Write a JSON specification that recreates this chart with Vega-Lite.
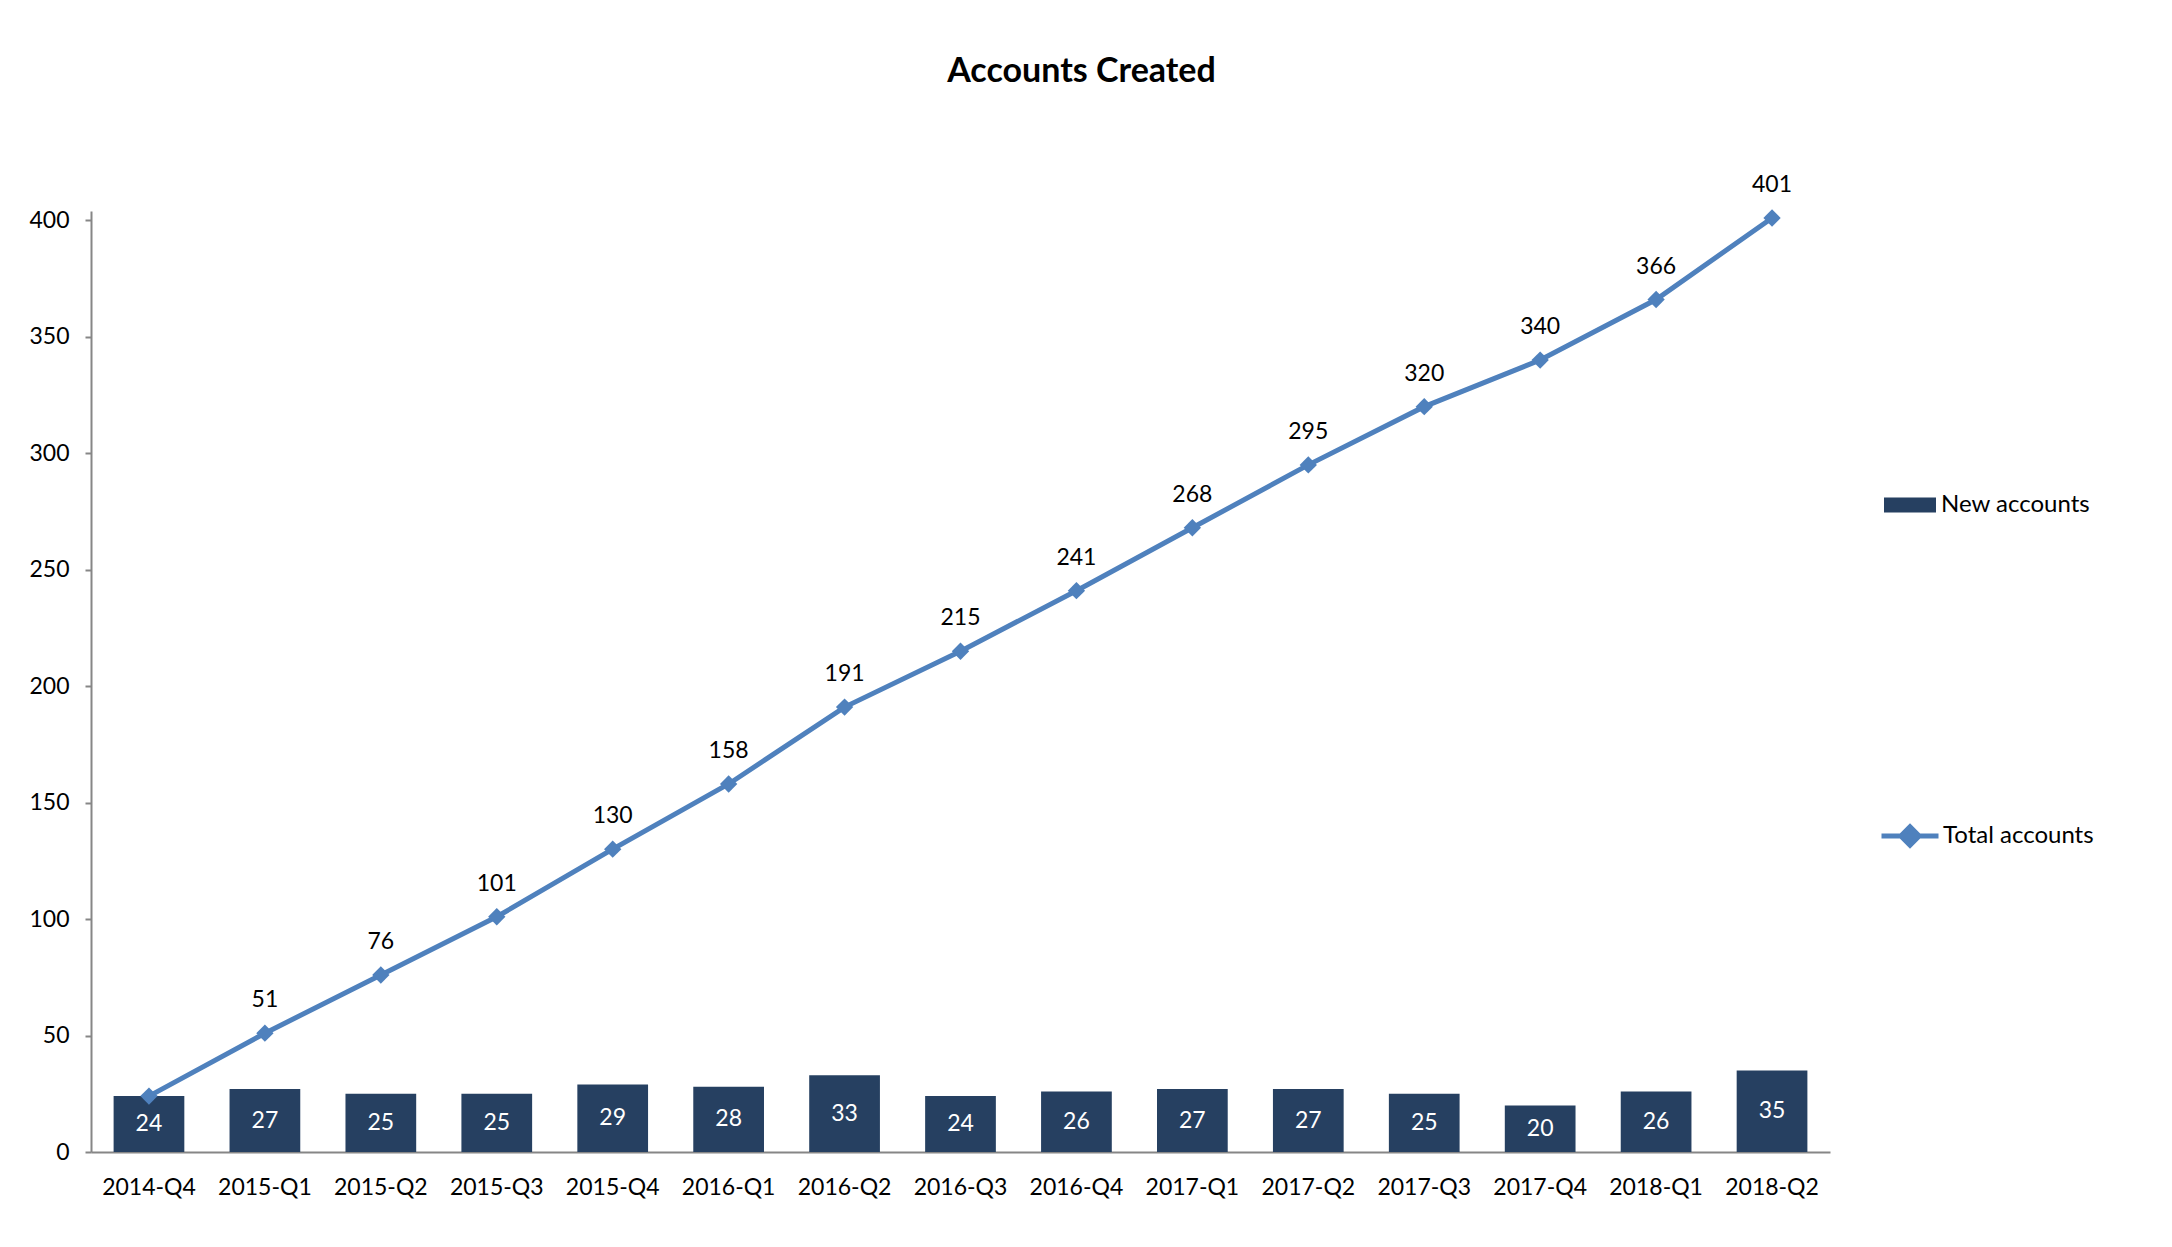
{
  "$schema": "https://vega.github.io/schema/vega-lite/v6.json",
  "width": 1739,
  "height": 941,
  "autosize": "none",
  "padding": {"left": 91, "top": 211, "right": 342, "bottom": 95},
  "background": "white",
  "config": {
    "font": "Lato",
    "view": {"stroke": null},
    "axis": {"grid": false, "domainColor": "#868686", "tickColor": "#868686", "labelColor": "#000000", "labelFont": "Lato", "labelFontSize": 23, "domainWidth": 2, "tickWidth": 2}
  },
  "title": {"text": "Accounts Created", "font": "Lato", "fontSize": 34, "fontWeight": "bold", "color": "#000000", "anchor": "middle", "frame": "group", "dx": 121, "baseline": "alphabetic", "offset": 58},
  "data": {"values": [
    {"quarter": "2014-Q4", "new": 24, "total": 24},
    {"quarter": "2015-Q1", "new": 27, "total": 51},
    {"quarter": "2015-Q2", "new": 25, "total": 76},
    {"quarter": "2015-Q3", "new": 25, "total": 101},
    {"quarter": "2015-Q4", "new": 29, "total": 130},
    {"quarter": "2016-Q1", "new": 28, "total": 158},
    {"quarter": "2016-Q2", "new": 33, "total": 191},
    {"quarter": "2016-Q3", "new": 24, "total": 215},
    {"quarter": "2016-Q4", "new": 26, "total": 241},
    {"quarter": "2017-Q1", "new": 27, "total": 268},
    {"quarter": "2017-Q2", "new": 27, "total": 295},
    {"quarter": "2017-Q3", "new": 25, "total": 320},
    {"quarter": "2017-Q4", "new": 20, "total": 340},
    {"quarter": "2018-Q1", "new": 26, "total": 366},
    {"quarter": "2018-Q2", "new": 35, "total": 401}
  ]},
  "encoding": {
    "x": {"field": "quarter", "type": "nominal", "sort": null, "title": null,
      "scale": {"paddingInner": 0.39, "paddingOuter": 0.195},
      "axis": {"labelAngle": 0, "ticks": false, "labelPadding": 35, "labelBaseline": "middle", "labelFlush": false}}
  },
  "resolve": {"scale": {"y": "independent"}, "axis": {"y": "independent"}},
  "layer": [
    {
      "mark": {"type": "bar"},
      "encoding": {
        "y": {"field": "new", "type": "quantitative", "title": null,
          "scale": {"domain": [0, 404], "nice": false, "zero": true},
          "axis": {"values": [0, 50, 100, 150, 200, 250, 300, 350, 400], "tickSize": 6, "labelPadding": 16}},
        "fill": {"datum": "New accounts", "type": "nominal",
          "scale": {"domain": ["New accounts"], "range": ["#264061"]},
          "legend": {"title": null, "orient": "none", "legendX": 1793, "legendY": 268, "padding": 0,
            "symbolType": "M-1,-0.29H1V0.29H-1Z", "symbolSize": 2704, "symbolStrokeWidth": 0,
            "labelFont": "Lato", "labelFontSize": 24, "labelColor": "#000000", "labelOffset": 5}}
      }
    },
    {
      "mark": {"type": "text", "color": "white", "fontSize": 23, "font": "Lato", "baseline": "middle"},
      "encoding": {
        "y": {"field": "new", "type": "quantitative", "scale": {"domain": [0, 808], "nice": false, "zero": true}, "axis": null},
        "text": {"field": "new", "type": "quantitative"}
      }
    },
    {
      "mark": {"type": "line", "color": "#4F81BD", "strokeWidth": 5},
      "encoding": {
        "y": {"field": "total", "type": "quantitative", "scale": {"domain": [0, 404], "nice": false, "zero": true}, "axis": null},
        "stroke": {"datum": "Total accounts", "type": "nominal",
          "scale": {"domain": ["Total accounts"], "range": ["#4F81BD"]},
          "legend": {"title": null, "orient": "none", "legendX": 1788, "legendY": 594, "padding": 0,
            "symbolType": "M-1,0H1M0,-0.32L0.32,0L0,0.32L-0.32,0Z", "symbolSize": 3249, "symbolStrokeWidth": 5,
            "symbolFillColor": "#4F81BD",
            "labelFont": "Lato", "labelFontSize": 24, "labelColor": "#000000", "labelOffset": 2}}
      }
    },
    {
      "mark": {"type": "point", "shape": "diamond", "filled": true, "color": "#4F81BD", "size": 300, "opacity": 1},
      "encoding": {"y": {"field": "total", "type": "quantitative", "scale": {"domain": [0, 404], "nice": false, "zero": true}, "axis": null}}
    },
    {
      "transform": [{"filter": "datum.quarter != '2014-Q4'"}],
      "mark": {"type": "text", "color": "black", "fontSize": 23, "font": "Lato", "baseline": "middle", "dy": -33},
      "encoding": {
        "y": {"field": "total", "type": "quantitative", "scale": {"domain": [0, 404], "nice": false, "zero": true}, "axis": null},
        "text": {"field": "total", "type": "quantitative"}
      }
    }
  ]
}
